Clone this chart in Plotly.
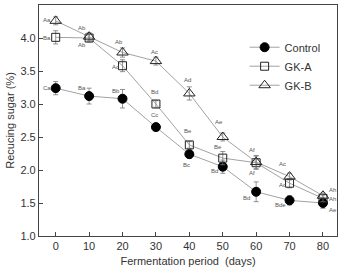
import plotly.graph_objects as go

days = [0, 10, 20, 30, 40, 50, 60, 70, 80]
control = [3.24, 3.12, 3.08, 2.65, 2.24, 2.05, 1.67, 1.54, 1.50]
control_err = [0.10, 0.12, 0.14, 0.05, 0.06, 0.10, 0.15, 0.07, 0.08]
gka = [4.01, 4.00, 3.58, 3.00, 2.38, 2.18, 2.11, 1.80, 1.57]
gka_err = [0.10, 0.06, 0.09, 0.05, 0.05, 0.10, 0.10, 0.07, 0.05]
gkb = [4.26, 4.02, 3.78, 3.65, 3.16, 2.50, 2.12, 1.90, 1.61]
gkb_err = [0.06, 0.06, 0.07, 0.06, 0.10, 0.06, 0.10, 0.05, 0.04]

# letter labels: (text, x, y)
labels = [
    ("Aa", -2.6, 4.27), ("Ba", -2.6, 4.00), ("Ca", -2.6, 3.24),
    ("Ab", 8.0, 4.15), ("Ab", 8.0, 3.90), ("Ba", 8.0, 3.24),
    ("Ab", 19.0, 3.94), ("Ac", 18.0, 3.56), ("Bb", 18.0, 3.19),
    ("Ac", 29.5, 3.79), ("Bd", 29.5, 3.18), ("Cc", 29.5, 2.84),
    ("Ad", 39.5, 3.36), ("Be", 39.5, 2.59), ("Bc", 39.0, 2.08),
    ("Ae", 49.0, 2.72), ("Be", 48.5, 2.35), ("Bd", 47.5, 1.99),
    ("Af", 58.7, 2.31), ("Af", 58.7, 1.96), ("Bd", 57.0, 1.58),
    ("Ac", 68.0, 2.09), ("Ac", 67.8, 1.77), ("Bde", 67.3, 1.47),
    ("Ah", 83.0, 1.69), ("Ah", 83.0, 1.56), ("Ae", 83.0, 1.40),
]

line_col = "#8a8a8a"
err = dict(type="data", thickness=0.8, width=2.5, color="#777777")

fig = go.Figure()
fig.add_trace(go.Scatter(
    x=days, y=control, name="Control", mode="lines+markers",
    line=dict(color=line_col, width=0.8),
    marker=dict(symbol="circle", size=9, color="black", line=dict(color="black", width=1)),
    error_y=dict(array=control_err, **err)))
fig.add_trace(go.Scatter(
    x=days, y=gka, name="GK-A", mode="lines+markers",
    line=dict(color=line_col, width=0.8),
    marker=dict(symbol="square-open", size=8, color="#222222", line=dict(width=1)),
    error_y=dict(array=gka_err, **err)))
fig.add_trace(go.Scatter(
    x=days, y=gkb, name="GK-B", mode="lines+markers",
    line=dict(color=line_col, width=0.8),
    marker=dict(symbol="triangle-up-open", size=10, color="#222222", line=dict(width=1)),
    error_y=dict(array=gkb_err, **err)))

for t, x, y in labels:
    fig.add_annotation(x=x, y=y, text=t, showarrow=False,
                       font=dict(size=6, color="#555555", family="Liberation Sans, Arial"))

fig.update_layout(
    width=343, height=267,
    margin=dict(l=39, r=6, t=5, b=31),
    paper_bgcolor="white", plot_bgcolor="white",
    font=dict(family="Liberation Sans, Arial", color="#333333", size=11),
    legend=dict(x=0.69, y=0.88, xanchor="left", yanchor="top",
                bgcolor="rgba(0,0,0,0)", font=dict(size=11, color="#333333"),
                itemwidth=30, tracegroupgap=0),
    showlegend=True,
)
fig.update_xaxes(range=[-5, 84.2], tickvals=days, ticks="inside", ticklen=4,
                 showline=True, linecolor="#444444", linewidth=1.2, mirror=True,
                 showgrid=False, zeroline=False, tickfont=dict(size=11), automargin=False,
                 title=dict(text="Fermentation period  (days)", font=dict(size=11), standoff=12))
fig.update_yaxes(range=[1.0, 4.5], dtick=0.5, tickformat=".1f", ticks="inside", ticklen=4,
                 showline=True, linecolor="#444444", linewidth=1.2, mirror=True,
                 showgrid=False, zeroline=False, tickfont=dict(size=11), automargin=False,
                 title=dict(text="Recucing sugar (%)", font=dict(size=11), standoff=3))

fig.write_html("out.html")
